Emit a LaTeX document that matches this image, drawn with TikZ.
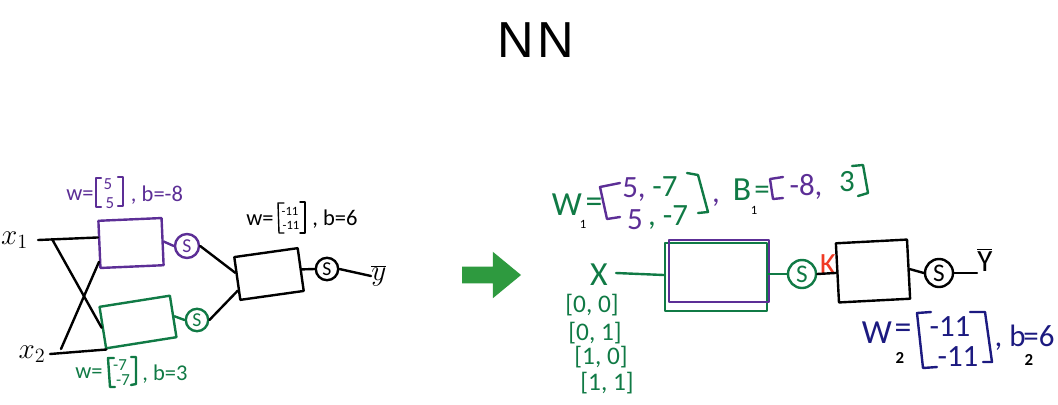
\documentclass[tikz,border=0pt]{standalone}
\usepackage{fontspec}
\setmainfont{Carlito}
\newfontfamily\titlefont[LetterSpace=6]{Liberation Sans}
\usetikzlibrary{shapes.arrows}
\definecolor{penpurple}{HTML}{5C2E96}
\definecolor{pengreen}{HTML}{107A45}
\definecolor{pennavy}{HTML}{1C1A80}
\definecolor{penred}{HTML}{F03A24}
\definecolor{arrowgreen}{HTML}{2E9A3F}
\tikzset{
    stroke/.style={line width=0.6mm, line cap=round, line join=round},
    boxnode/.style={draw, stroke, rectangle, inner sep=0pt},
    sigmoid/.style={draw, stroke, circle, inner sep=0pt, font=\fontsize{14}{14}\selectfont},
    tiny label/.style={inner sep=0pt, font=\fontsize{9}{9}\selectfont},
    small label/.style={inner sep=0pt, font=\fontsize{12}{12}\selectfont},
    mid label/.style={inner sep=0pt, font=\fontsize{16}{16}\selectfont},
    row label/.style={inner sep=0pt, font=\fontsize{18}{18}\selectfont},
    big label/.style={inner sep=0pt, font=\fontsize{22}{22}\selectfont},
    huge label/.style={inner sep=0pt, font=\fontsize{24}{24}\selectfont},
}
\begin{document}
\begin{tikzpicture}[x=0.025cm, y=-0.025cm]
    \useasboundingbox (0,0) rectangle (1058,404);
    \node[inner sep=0pt, font=\titlefont\fontsize{36}{36}\selectfont] (title) at (536,40) {NN};

    \node[anchor=east, inner sep=7pt, font=\fontsize{22}{22}\selectfont] (xa) at (38,240) {$x_1$};
    \node[anchor=east, inner sep=3pt, font=\fontsize{22}{22}\selectfont] (xb) at (50,354) {$x_2$};
    \node[boxnode, penpurple, rotate=2.5, minimum width=1.58cm, minimum height=1.18cm] (boxa) at (131,243) {};
    \node[boxnode, pengreen, rotate=9, minimum width=1.78cm, minimum height=1.05cm] (boxb) at (138,322) {};
    \node[boxnode, rotate=8, minimum width=1.6cm, minimum height=1.08cm] (boxc) at (269,274) {};
    \node[sigmoid, penpurple, minimum size=0.6cm] (siga) at (187,246) {S};
    \node[sigmoid, pengreen, minimum size=0.56cm] (sigb) at (197,320) {S};
    \node[sigmoid, minimum size=0.56cm] (sigc) at (327,269) {S};
    \node[inner sep=0pt, anchor=west, font=\fontsize{22}{22}\selectfont] (ya) at (371,276) {$\overline{y}$};
    \coordinate (branchA) at (52,239);
    \coordinate (branchB) at (61,349);

    \draw[stroke] (xa.east) -- (boxa.168);
    \draw[stroke] (xb.east) -- (boxb.212);
    \draw[stroke] (branchA) -- (boxb.west);
    \draw[stroke] (branchB) -- (boxa.208);
    \draw[stroke, penpurple] (boxa.east) -- (siga.west);
    \draw[stroke, pengreen] (boxb.east) -- (sigb.west);
    \draw[stroke] (siga.east) -- (boxc.170);
    \draw[stroke] (sigb.east) -- (boxc.200);
    \draw[stroke] (boxc.east) -- (sigc.west);
    \draw[stroke] (sigc.east) -- (ya.west);

    \node[mid label, penpurple] (labwa) at (80,195) {w=};
    \draw[stroke, penpurple] (101,178) -- (96,178) -- (96,207) -- (101,207);
    \node[small label, penpurple] (labwb) at (108,184) {5};
    \node[small label, penpurple] (labwc) at (110,203) {5};
    \draw[stroke, penpurple] (118,177) -- (123,177) -- (123,206) -- (118,206);
    \node[mid label, penpurple] (labba) at (157,195) {, b=-8};

    \node[mid label, pengreen] (labwd) at (89,373) {w=};
    \draw[stroke, pengreen] (114,358) -- (108,358) -- (110,387) -- (115,387);
    \node[small label, pengreen] (labwe) at (120,365) {-7};
    \node[small label, pengreen] (labwf) at (123,380) {-7};
    \draw[stroke, pengreen] (131,357) -- (136,357) -- (136,384) -- (131,385);
    \node[mid label, pengreen] (labbb) at (165,374) {, b=3};

    \node[mid label] (labwg) at (260,220) {w=};
    \draw[stroke, line width=0.35mm] (284,203) -- (278,203) -- (279,233) -- (284,233);
    \node[tiny label] (labwh) at (290,211) {-11};
    \node[tiny label] (labwi) at (291,225) {-11};
    \draw[stroke, line width=0.35mm] (300,202) -- (305,202) -- (305,233) -- (300,233);
    \node[mid label] (labbc) at (335,219) {, b=6};

    \node[single arrow, fill=arrowgreen, inner xsep=0pt, inner ysep=0.2cm, minimum width=1.15cm, minimum height=1.475cm, single arrow head extend=0.375cm, single arrow tip angle=79] (go) at (486.5,275) {};

    \node[huge label, pengreen] (lx) at (599,275) {X};
    \node[row label, pengreen] (rowa) at (592,305) {[0, 0]};
    \node[row label, pengreen] (rowb) at (595,333) {[0, 1]};
    \node[row label, pengreen] (rowc) at (601,357) {[1, 0]};
    \node[row label, pengreen] (rowd) at (607,383) {[1, 1]};
    \node[boxnode, pengreen, minimum width=2.55cm, minimum height=1.7cm] (hida) at (716,277) {};
    \node[boxnode, penpurple, minimum width=2.5cm, minimum height=1.56cm] (hidb) at (719,271) {};
    \node[sigmoid, pengreen, minimum size=0.7cm, font=\fontsize{18}{18}\selectfont] (sigd) at (802,274) {S};
    \node[boxnode, rotate=3, minimum width=1.78cm, minimum height=1.48cm] (hidc) at (873,271) {};
    \node[sigmoid, minimum size=0.7cm, font=\fontsize{18}{18}\selectfont] (sige) at (939,273) {S};
    \node[inner sep=0pt, anchor=west, font=\fontsize{22}{22}\selectfont] (yb) at (977,260) {$\overline{\mathrm{Y}}$};
    \node[big label, penred] (lk) at (828,265) {K};

    \draw[stroke, pengreen] (lx.east) ++(8,-2) -- (hida.west |- lx);
    \draw[stroke, pengreen] (hida.east |- sigd) -- (sigd.west);
    \draw[stroke] (sigd.east) -- (hidc.west);
    \draw[stroke] (hidc.east) -- (sige.west);
    \draw[stroke] (sige.east) -- (yb.west |- sige);

    \node[huge label, pengreen] (labWa) at (567,205) {W};
    \node[tiny label] (subWa) at (583,224) {1};
    \node[huge label, pengreen] (eqWa) at (594,205) {=};
    \draw[stroke, penpurple] (620,183) -- (600,187) -- (607,219) -- (620,217);
    \node[big label, penpurple] (rowWa) at (634,190) {5,};
    \node[big label, pengreen] (rowWb) at (665,187) {-7};
    \node[big label, penpurple] (rowWc) at (635,220) {5};
    \node[big label, pengreen] (rowWd) at (668,218) {, -7};
    \draw[stroke, pengreen] (687,173) -- (698,175) -- (708,212) -- (698,213);
    \node[big label, penpurple] (commaW) at (716,203) {,};
    \node[huge label, pengreen] (labBa) at (742,190) {B};
    \node[tiny label] (subBa) at (754,210) {1};
    \node[big label, pengreen] (eqBa) at (762,193) {=};
    \draw[stroke, penpurple] (783,177) -- (770,179) -- (773,199) -- (783,198);
    \node[big label, penpurple] (rowBa) at (806,187) {-8,};
    \node[big label, pengreen] (rowBb) at (847,182) {3};
    \draw[stroke, pengreen] (852,166) -- (863,165) -- (868,193) -- (858,196);

    \node[huge label, pennavy] (labWb) at (877,333) {W};
    \node[small label] (subWb) at (900,358) {\textbf{2}};
    \node[huge label, pennavy] (eqWb) at (903,331) {=};
    \draw[stroke, pennavy] (931,312) -- (917,313) -- (923,368) -- (937,367);
    \node[big label, pennavy] (rowWe) at (950,327) {-11};
    \node[big label, pennavy] (rowWf) at (958,357) {-11};
    \draw[stroke, pennavy] (970,312) -- (985,312) -- (992,362) -- (983,362);
    \node[big label, pennavy] (labbd) at (1010,338) {, b};
    \node[small label] (subbd) at (1029,360) {\textbf{2}};
    \node[big label, pennavy] (labbe) at (1039,336) {=6};
\end{tikzpicture}
\end{document}
